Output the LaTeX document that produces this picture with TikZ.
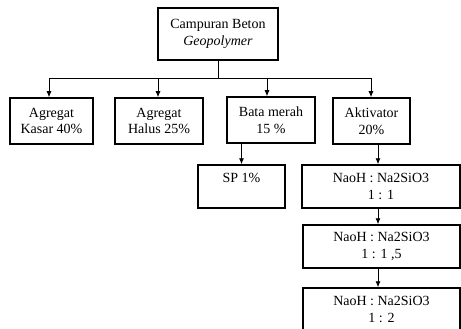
\documentclass[tikz,border=0pt]{standalone}
\usepackage{fontspec}
\setmainfont{Liberation Serif}
\usetikzlibrary{arrows.meta}

\begin{document}
\begin{tikzpicture}[x=1pt,y=-1pt,
  kotak/.style={draw,line width=1.5pt,inner sep=0pt,align=center,font=\fontsize{14}{16.5}\selectfont},
  garis/.style={line width=0.9pt},
  panah/.style={line width=0.9pt,-{Latex[length=6pt,width=5pt]}}]
\clip (0,0) rectangle (461,329);
\node[kotak,minimum width=120,minimum height=52] (campuran) at (218,34) {Campuran Beton\\\textit{Geopolymer}};
\node[kotak,minimum width=83,minimum height=46] (kasar) at (51.5,121) {Agregat\\Kasar 40\%};
\node[kotak,minimum width=88,minimum height=46] (halus) at (159,121) {Agregat\\Halus 25\%};
\node[kotak,minimum width=88,minimum height=46] (bata) at (271,120) {Bata merah\\15 \%};
\node[kotak,minimum width=77,minimum height=46] (aktivator) at (371.5,121) {Aktivator\\20\%};
\node[kotak,minimum width=87,minimum height=43,text depth=18pt] (sp) at (241.5,186.5) {SP 1\%};
\node[kotak,minimum width=158,minimum height=43] (rasio1) at (381,186.5) {NaoH : Na2SiO3\\1 : 1};
\node[kotak,minimum width=157,minimum height=43] (rasio2) at (381.5,246.5) {NaoH : Na2SiO3\\1 : 1 ,5};
\node[kotak,minimum width=157,minimum height=43] (rasio3) at (381.5,309.5) {NaoH : Na2SiO3\\1 : 2};
\coordinate (cabang) at (218,78);
\coordinate (b1) at (49,78);
\coordinate (b2) at (158,78);
\coordinate (b3) at (267,78);
\coordinate (b4) at (371,78);
\draw[garis] (campuran.south) -- (cabang);
\draw[garis] (b1) -- (b4);
\foreach \b/\n in {b1/kasar,b2/halus,b3/bata,b4/aktivator}{
\draw[panah] (\b) -- (\b |- \n.north);
}
\draw[panah] (sp.north |- bata.south) -- (sp.north);
\coordinate (a1) at (378,144);
\draw[panah] (a1) -- (a1 |- rasio1.north);
\draw[panah] (a1 |- rasio1.south) -- (a1 |- rasio2.north);
\draw[panah] (a1 |- rasio2.south) -- (a1 |- rasio3.north);
\end{tikzpicture}
\end{document}
